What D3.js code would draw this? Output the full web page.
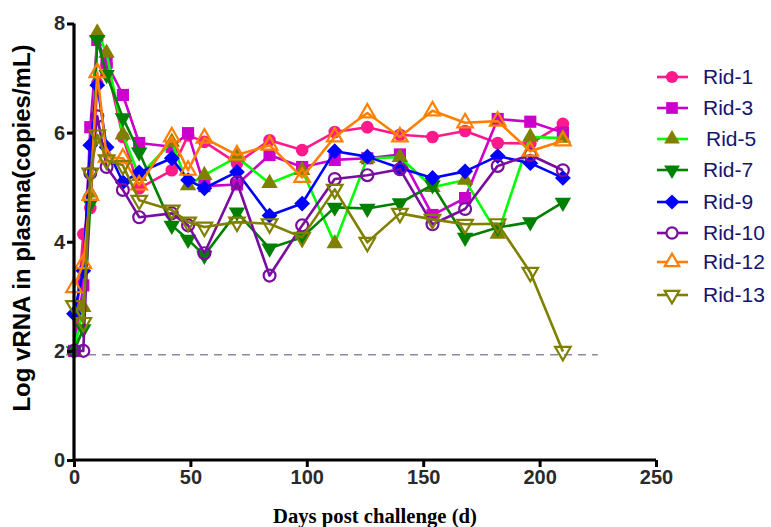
<!DOCTYPE html>
<html>
<head>
<meta charset="utf-8">
<script src="https://cdn.jsdelivr.net/npm/d3@7"></script>
<style>
  body { margin: 0; background: #fff; }
  svg { display: block; }
</style>
</head>
<body>
<svg id="chart"></svg>
<script>
// viral load per animal, log copies/mL
const days = [0, 4, 7, 10, 14, 21, 28, 42, 49, 56, 70, 84, 98, 112, 126, 140, 154, 168, 182, 196, 210];

const rid1  = [2.0, 4.14, 4.62, 6.9, 7.25, 5.92, 4.98, 5.31, 5.95, 5.83, 5.44, 5.86, 5.68, 6.01, 6.10, 5.96, 5.92, 6.03, 5.81, 5.80, 6.16];
const rid3  = [2.0, 3.2, 6.1, 7.7, 7.28, 6.69, 5.81, 5.74, 5.99, 5.02, 5.05, 5.59, 5.37, 5.5, 5.53, 5.6, 4.49, 4.8, 6.25, 6.2, 6.0];
const rid5  = [2.0, 2.8, 4.9, 7.83, 7.46, 5.96, 5.2, 5.83, 5.03, 5.22, 5.55, 5.07, 5.31, 3.97, 5.53, 5.55, 5.0, 5.13, 4.14, 5.92, 5.9];
const rid7  = [2.0, 2.4, 4.7, 7.7, 7.06, 6.27, 5.64, 4.3, 4.04, 3.75, 4.54, 3.88, 4.08, 4.63, 4.61, 4.71, 5.04, 4.08, 4.26, 4.36, 4.72];
const rid9  = [2.68, 3.47, 5.77, 6.87, 5.73, 5.09, 5.27, 5.53, 5.13, 4.98, 5.28, 4.48, 4.7, 5.66, 5.56, 5.35, 5.17, 5.29, 5.57, 5.44, 5.17];
const rid10 = [2.0, 2.0, 5.26, 6.3, 5.37, 4.95, 4.45, 4.52, 4.3, 3.79, 5.09, 3.38, 4.3, 5.15, 5.22, 5.33, 4.32, 4.6, 5.39, 5.59, 5.31];
const rid12 = [3.16, 3.6, 4.85, 7.1, 5.55, 5.53, 5.04, 5.92, 5.31, 5.9, 5.59, 5.77, 5.18, 5.92, 6.36, 5.92, 6.4, 6.18, 6.21, 5.66, 5.85];
const rid13 = [2.83, 2.52, 5.26, 5.96, 5.5, 5.4, 4.76, 4.58, 4.36, 4.27, 4.36, 4.33, 4.08, 4.96, 3.99, 4.52, 4.41, 4.32, 4.33, 3.44, 1.99];

const names = ["Rid-1", "Rid-3", "Rid-5", "Rid-7", "Rid-9", "Rid-10", "Rid-12", "Rid-13"];
const values = [rid1, rid3, rid5, rid7, rid9, rid10, rid12, rid13];
const limit = 1.93; // detection limit

const xTicks = [0, 50, 100, 150, 200, 250];
const yTicks = [0, 2, 4, 6, 8];

// styling per series
const lineColors = ["#ff1a8c", "#cc00cc", "#00ff00", "#008000", "#0000ff", "#7a0ca0", "#ff8000", "#808000"];
const markColors = ["#ff1a8c", "#cc00cc", "#808000", "#008000", "#0000ff", "#7a0ca0", "#ff8000", "#808000"];
const shapes = ["circle", "square", "tri", "triDown", "diamond", "circle", "tri", "triDown"];
const open = [false, false, false, false, false, true, true, true];

const width = 771, height = 527;
const svg = d3.select("#chart").attr("width", width).attr("height", height);

const x = d3.scaleLinear().domain([0, 250]).range([74, 656]);
const y = d3.scaleLinear().domain([0, 8]).range([460, 23.5]);

function symPath(shape, s) {
  if (shape == "circle") return d3.symbol(d3.symbolCircle, s * s * 0.8)();
  if (shape == "square") return d3.symbol(d3.symbolSquare, s * s * 0.95)();
  if (shape == "diamond") return d3.symbol(d3.symbolSquare, s * s * 0.8)();
  return d3.symbol(d3.symbolTriangle, s * s * 0.75)();
}
function symRot(shape) {
  if (shape == "triDown") return 180;
  if (shape == "diamond") return 45;
  return 0;
}

// detection limit
svg.append("line")
  .attr("x1", x(0)).attr("x2", x(225))
  .attr("y1", y(limit)).attr("y2", y(limit))
  .attr("stroke", "#8a8aa8").attr("stroke-width", 1.5)
  .attr("stroke-dasharray", "8,6");

const line = d3.line().x(d => x(d[0])).y(d => y(d[1]));

values.forEach((vals, i) => {
  const pts = days.map((d, j) => [d, vals[j]]);
  const g = svg.append("g");
  g.append("path")
    .attr("d", line(pts))
    .attr("fill", "none")
    .attr("stroke", lineColors[i])
    .attr("stroke-width", 2.6)
    .attr("stroke-linejoin", "round");
  g.selectAll("path.mk")
    .data(pts)
    .enter()
    .append("path")
    .attr("class", "mk")
    .attr("d", symPath(shapes[i], open[i] ? 11.8 : 12.5))
    .attr("transform", d => `translate(${x(d[0])},${y(d[1])}) rotate(${symRot(shapes[i])})`)
    .attr("fill", open[i] ? "none" : markColors[i])
    .attr("stroke", markColors[i])
    .attr("stroke-width", open[i] ? 2.2 : 0);
});

// axes
const xAxis = svg.append("g")
  .attr("transform", `translate(0,${y(0)})`)
  .call(d3.axisBottom(x).tickValues(xTicks).tickSize(7).tickPadding(3));
const yAxis = svg.append("g")
  .attr("transform", `translate(${x(0)},0)`)
  .call(d3.axisLeft(y).tickValues(yTicks).tickSize(7).tickPadding(2));

[xAxis, yAxis].forEach(a => {
  a.select(".domain").attr("stroke", "#000").attr("stroke-width", 3.2);
  a.selectAll(".tick line").attr("stroke", "#000").attr("stroke-width", 3);
  a.selectAll(".tick text")
    .attr("fill", "#2a2a2a")
    .style("font-family", "'Liberation Sans', Arial, sans-serif")
    .style("font-weight", "bold")
    .style("font-size", "20px");
});
xAxis.select(".domain").attr("d", `M${x(0)},0H${x(250)}`);
yAxis.select(".domain").attr("d", `M0,${y(8)}V${y(0)}`);

svg.append("text")
  .attr("transform", `translate(30,228) rotate(-90)`)
  .attr("text-anchor", "middle")
  .style("font-family", "'Liberation Sans', Arial, sans-serif")
  .style("font-weight", "bold")
  .style("font-size", "24px")
  .text("Log vRNA in plasma(copies/mL)");

svg.append("text")
  .attr("x", 375).attr("y", 523)
  .attr("text-anchor", "middle")
  .style("font-family", "'Liberation Serif', 'Times New Roman', serif")
  .style("font-weight", "bold")
  .style("font-size", "20.7px")
  .text("Days post challenge (d)");

// legend
const legY = [77, 108, 139, 170, 202, 233, 262, 295];
const leg = svg.append("g");
names.forEach((n, i) => {
  const gy = legY[i];
  leg.append("line")
    .attr("x1", 657).attr("x2", 688).attr("y1", gy).attr("y2", gy)
    .attr("stroke", lineColors[i]).attr("stroke-width", 2.6);
  leg.append("path")
    .attr("d", symPath(shapes[i], open[i] ? 11 : 12))
    .attr("transform", `translate(672,${gy}) rotate(${symRot(shapes[i])})`)
    .attr("fill", open[i] ? "#fff" : markColors[i])
    .attr("stroke", markColors[i])
    .attr("stroke-width", open[i] ? 2.2 : 0);
  leg.append("text")
    .attr("x", i == 2 ? 706 : 703).attr("y", gy + 7)
    .attr("fill", "#141470")
    .style("font-family", "'Liberation Sans', Arial, sans-serif")
    .style("font-size", "21px")
    .text(n);
});
</script>
</body>
</html>
